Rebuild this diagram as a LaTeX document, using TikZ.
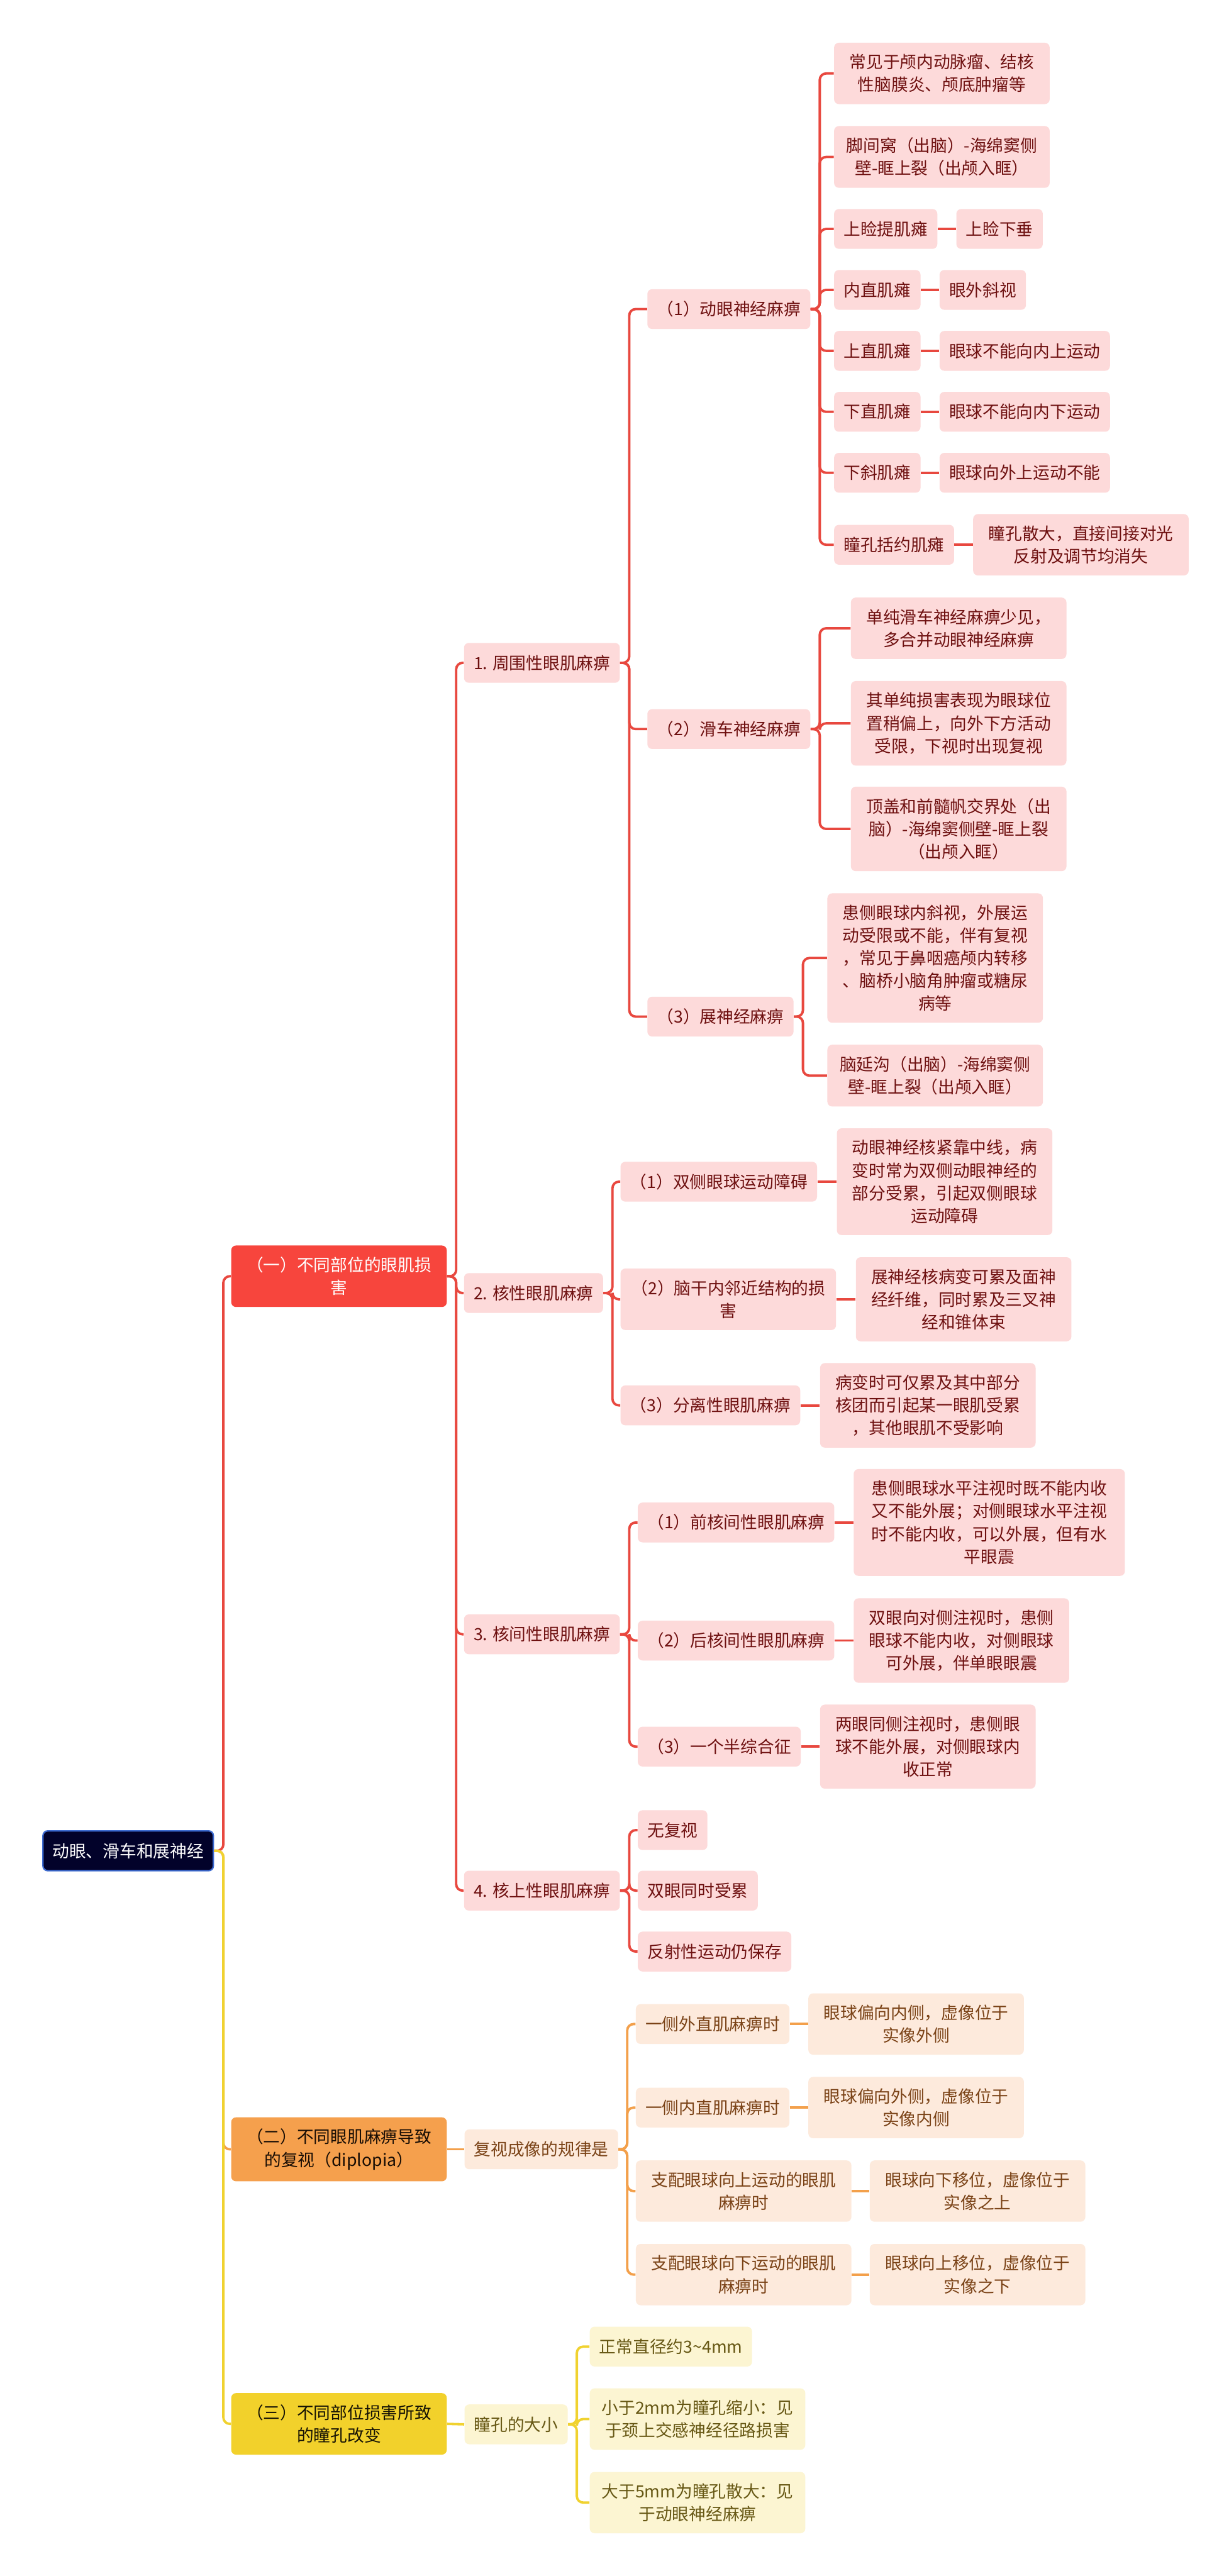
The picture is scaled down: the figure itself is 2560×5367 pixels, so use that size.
\documentclass[tikz,border=0pt]{standalone}
\usepackage{fontspec}
\setmainfont{Noto Sans CJK SC}
\usetikzlibrary{positioning}
\definecolor{navyfill}{HTML}{02022A}
\definecolor{navyedge}{HTML}{3D6BD0}
\definecolor{redtop}{HTML}{F7453D}
\definecolor{redsoft}{HTML}{FDDADA}
\definecolor{redink}{HTML}{6E1010}
\definecolor{redwire}{HTML}{E8483F}
\definecolor{orgtop}{HTML}{F5A04D}
\definecolor{orgsoft}{HTML}{FDEADC}
\definecolor{orgink}{HTML}{7A4216}
\definecolor{orgwire}{HTML}{F3A04B}
\definecolor{ylwtop}{HTML}{F2D12B}
\definecolor{ylwsoft}{HTML}{FCF5D2}
\definecolor{ylwink}{HTML}{675815}
\definecolor{ylwwire}{HTML}{F0D230}
\tikzset{
  topic/.style={rounded corners=3pt, inner xsep=6pt, inner ysep=7.2pt,
    minimum height=24.9pt, align=center, anchor=west,
    font=\fontsize{10.5pt}{14.2pt}\selectfont},
  wide/.style={minimum width=134.7pt},
  wider/.style={minimum width=169.5pt},
  rootbox/.style={topic, fill=navyfill, draw=navyedge, line width=0.9pt, text=white},
  redhead/.style={topic, fill=redtop, text=white},
  redbox/.style={topic, fill=redsoft, text=redink},
  orghead/.style={topic, fill=orgtop, text=black!80!orgink},
  orgbox/.style={topic, fill=orgsoft, text=orgink},
  ylwhead/.style={topic, fill=ylwtop, text=black!80!ylwink},
  ylwbox/.style={topic, fill=ylwsoft, text=ylwink},
  wire/.style={line width=1.5pt, rounded corners=4pt},
  redln/.style={wire, draw=redwire},
  orgln/.style={wire, draw=orgwire},
  ylwln/.style={wire, draw=ylwwire},
}

\begin{document}
\begin{tikzpicture}[x=0.3pt, y=-0.3pt]
  \fill[white] (0,0) rectangle (2560,5367);
  \useasboundingbox (0,0) rectangle (2560,5367);

  % --- root and main branches ---
  \node[rootbox] (root) at (88,3856) {动眼、滑车和展神经};
  \node[redhead, wide] (dmg) at (481,2659) {（一）不同部位的眼肌损\\害};
  \node[orghead, wide] (dip) at (481,4478) {（二）不同眼肌麻痹导致\\的复视（diplopia）};
  \node[ylwhead, wide] (pup) at (481,5050) {（三）不同部位损害所致\\的瞳孔改变};

  % --- (一) ---
  \node[redbox] (p1) at (966,1381) {1. 周围性眼肌麻痹};
  \node[redbox] (p2) at (966,2694) {2. 核性眼肌麻痹};
  \node[redbox] (p3) at (966,3405) {3. 核间性眼肌麻痹};
  \node[redbox] (p4) at (966,3939) {4. 核上性眼肌麻痹};

  \node[redbox] (q1) at (1348,644) {（1）动眼神经麻痹};
  \node[redbox] (q2) at (1348,1519) {（2）滑车神经麻痹};
  \node[redbox] (q3) at (1348,2118) {（3）展神经麻痹};

  \node[redbox, wide] (a1) at (1737,153) {常见于颅内动脉瘤、结核\\性脑膜炎、颅底肿瘤等};
  \node[redbox, wide] (a2) at (1737,327) {脚间窝（出脑）-海绵窦侧\\壁-眶上裂（出颅入眶）};
  \node[redbox] (a3) at (1737,477) {上睑提肌瘫};
  \node[redbox] (a4) at (1737,604) {内直肌瘫};
  \node[redbox] (a5) at (1737,731) {上直肌瘫};
  \node[redbox] (a6) at (1737,858) {下直肌瘫};
  \node[redbox] (a7) at (1737,985) {下斜肌瘫};
  \node[redbox] (a8) at (1737,1135) {瞳孔括约肌瘫};
  \node[redbox, right=11.5pt of a3] (a3x) {上睑下垂};
  \node[redbox, right=11.5pt of a4] (a4x) {眼外斜视};
  \node[redbox, right=11.5pt of a5] (a5x) {眼球不能向内上运动};
  \node[redbox, right=11.5pt of a6] (a6x) {眼球不能向内下运动};
  \node[redbox, right=11.5pt of a7] (a7x) {眼球向外上运动不能};
  \node[redbox, wide, right=11.5pt of a8] (a8x) {瞳孔散大，直接间接对光\\反射及调节均消失};

  \node[redbox, wide] (b1) at (1772,1309) {单纯滑车神经麻痹少见，\\多合并动眼神经麻痹};
  \node[redbox, wide] (b2) at (1772,1507) {其单纯损害表现为眼球位\\置稍偏上，向外下方活动\\受限，下视时出现复视};
  \node[redbox, wide] (b3) at (1772,1727) {顶盖和前髓帆交界处（出\\脑）-海绵窦侧壁-眶上裂\\（出颅入眶）};

  \node[redbox, wide] (c1) at (1723,1996) {患侧眼球内斜视，外展运\\动受限或不能，伴有复视\\，常见于鼻咽癌颅内转移\\、脑桥小脑角肿瘤或糖尿\\病等};
  \node[redbox, wide] (c2) at (1723,2241) {脑延沟（出脑）-海绵窦侧\\壁-眶上裂（出颅入眶）};

  \node[redbox] (r1) at (1292,2462) {（1）双侧眼球运动障碍};
  \node[redbox, wide] (r2) at (1292,2707) {（2）脑干内邻近结构的损\\害};
  \node[redbox] (r3) at (1292,2928) {（3）分离性眼肌麻痹};
  \node[redbox, wide, right=12pt of r1] (r1x) {动眼神经核紧靠中线，病\\变时常为双侧动眼神经的\\部分受累，引起双侧眼球\\运动障碍};
  \node[redbox, wide, right=12pt of r2] (r2x) {展神经核病变可累及面神\\经纤维，同时累及三叉神\\经和锥体束};
  \node[redbox, wide, right=12pt of r3] (r3x) {病变时可仅累及其中部分\\核团而引起某一眼肌受累\\，其他眼肌不受影响};

  \node[redbox] (s1) at (1328,3172) {（1）前核间性眼肌麻痹};
  \node[redbox] (s2) at (1328,3418) {（2）后核间性眼肌麻痹};
  \node[redbox] (s3) at (1328,3639) {（3）一个半综合征};
  \node[redbox, wider, right=11.7pt of s1] (s1x) {患侧眼球水平注视时既不能内收\\又不能外展；对侧眼球水平注视\\时不能内收，可以外展，但有水\\平眼震};
  \node[redbox, wide, right=11.7pt of s2] (s2x) {双眼向对侧注视时，患侧\\眼球不能内收，对侧眼球\\可外展，伴单眼眼震};
  \node[redbox, wide, right=11.7pt of s3] (s3x) {两眼同侧注视时，患侧眼\\球不能外展，对侧眼球内\\收正常};

  \node[redbox] (t1) at (1328,3813) {无复视};
  \node[redbox] (t2) at (1328,3939) {双眼同时受累};
  \node[redbox] (t3) at (1328,4066) {反射性运动仍保存};

  % --- (二) ---
  \node[orgbox] (u0) at (967,4478) {复视成像的规律是};
  \node[orgbox] (u1) at (1324,4217) {一侧外直肌麻痹时};
  \node[orgbox] (u2) at (1324,4391) {一侧内直肌麻痹时};
  \node[orgbox, wide] (u3) at (1324,4565) {支配眼球向上运动的眼肌\\麻痹时};
  \node[orgbox, wide] (u4) at (1324,4739) {支配眼球向下运动的眼肌\\麻痹时};
  \node[orgbox, wide, right=11.4pt of u1] (u1x) {眼球偏向内侧，虚像位于\\实像外侧};
  \node[orgbox, wide, right=11.4pt of u2] (u2x) {眼球偏向外侧，虚像位于\\实像内侧};
  \node[orgbox, wide, right=11.1pt of u3] (u3x) {眼球向下移位，虚像位于\\实像之上};
  \node[orgbox, wide, right=11.1pt of u4] (u4x) {眼球向上移位，虚像位于\\实像之下};

  % --- (三) ---
  \node[ylwbox] (v0) at (967,5051) {瞳孔的大小};
  \node[ylwbox] (v1) at (1228,4889) {正常直径约3\textasciitilde4mm};
  \node[ylwbox, wide] (v2) at (1228,5040) {小于2mm为瞳孔缩小：见\\于颈上交感神经径路损害};
  \node[ylwbox, wide] (v3) at (1228,5214) {大于5mm为瞳孔散大：见\\于动眼神经麻痹};

  % --- connectors ---
  \draw[redln] (root.east) -- ++(5.8pt,0) |- (dmg.west);
  \draw[orgln] (root.east) -- ++(5.8pt,0) |- (dip.west);
  \draw[ylwln] (root.east) -- ++(5.8pt,0) |- (pup.west);
  \foreach \a/\b in {dmg/p1,dmg/p2,dmg/p3,dmg/p4,p1/q1,p1/q2,p1/q3,
      q1/a1,q1/a2,q1/a3,q1/a4,q1/a5,q1/a6,q1/a7,q1/a8,q2/b1,q2/b2,q2/b3,
      q3/c1,q3/c2,p2/r1,p2/r2,p2/r3,p3/s1,p3/s2,p3/s3,p4/t1,p4/t2,p4/t3}
    \draw[redln] (\a.east) -- ++(5.7pt,0) |- (\b.west);
  \foreach \a/\b in {a3/a3x,a4/a4x,a5/a5x,a6/a6x,a7/a7x,a8/a8x,
      r1/r1x,r2/r2x,r3/r3x,s1/s1x,s2/s2x,s3/s3x}
    \draw[redln] (\a.east) -- (\b.west);
  \draw[orgln] (dip.east) -- (u0.west);
  \foreach \b in {u1,u2,u3,u4}
    \draw[orgln] (u0.east) -- ++(5.5pt,0) |- (\b.west);
  \foreach \a/\b in {u1/u1x,u2/u2x,u3/u3x,u4/u4x}
    \draw[orgln] (\a.east) -- (\b.west);
  \draw[ylwln] (pup.east) -- (v0.west);
  \foreach \b in {v1,v2,v3}
    \draw[ylwln] (v0.east) -- ++(5.5pt,0) |- (\b.west);
\end{tikzpicture}
\end{document}
